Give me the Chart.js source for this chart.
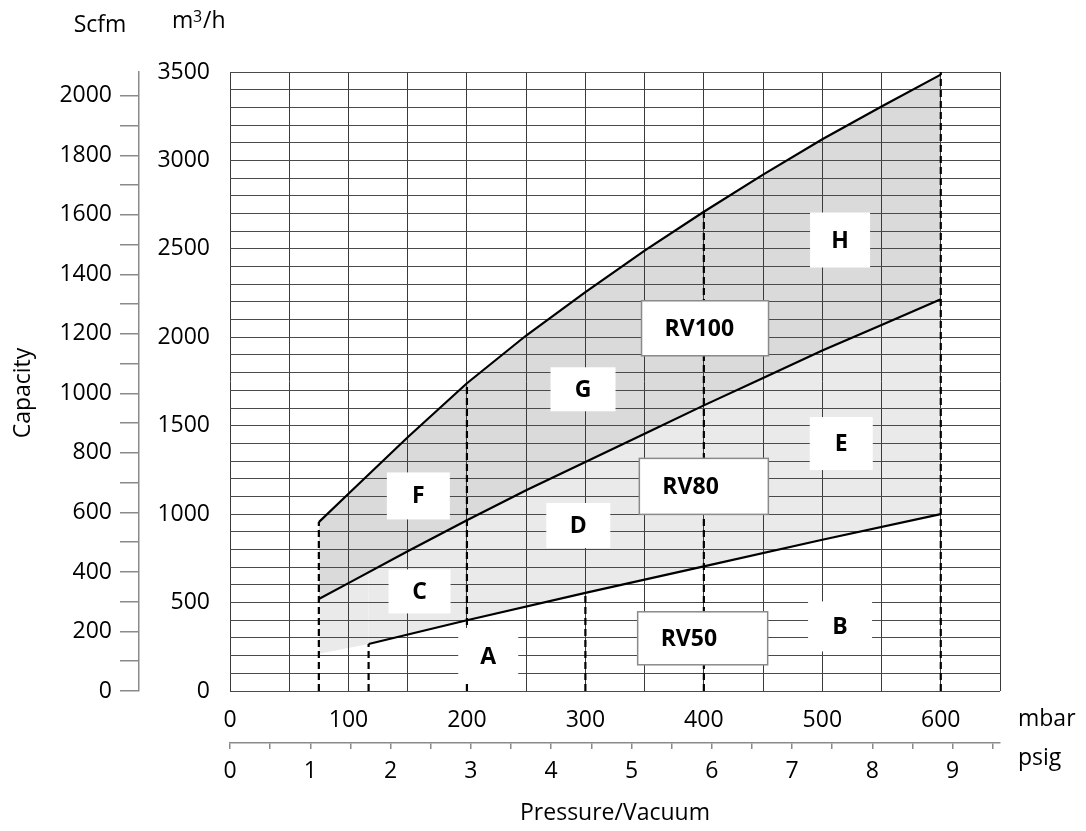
<!DOCTYPE html>
<html>
<head>
<meta charset="utf-8">
<title>RV capacity vs pressure</title>
<script src="https://cdn.jsdelivr.net/npm/chart.js@4.4.1/dist/chart.umd.min.js"></script>
<style>
  body { margin: 0; background: #fff; }
  #wrap { width: 1086px; height: 831px; position: relative; }
</style>
</head>
<body>
<div id="wrap"><canvas id="chart"></canvas></div>
<script>
// --- datos (mbar / m3/h) ---
const pressureMbar = [75, 100, 150, 200, 250, 300, 350, 400, 450, 500, 550, 600];
const rv100Max = [955, 1115, 1435, 1740, 2010, 2255, 2490, 2710, 2920, 3120, 3305, 3485];
const rv80Max = [520, 610, 790, 965, 1135, 1295, 1455, 1615, 1770, 1925, 2070, 2215];
const rv50Pressure = [75, 117, 200, 300, 400, 500, 600];
const rv50Max = [210, 266, 400, 555, 705, 855, 1000];

// límites verticales (líneas discontinuas)
const limitPressure = [75, 117, 200, 300, 400, 600];
const limitCapacity = [955, 266, 1740, 555, 2710, 3500];

// etiquetas de zonas
const regionNames = ['H', 'G', 'F', 'E', 'D', 'C', 'A', 'B', 'RV100', 'RV80', 'RV50'];
const regionMbar = [515, 298, 159, 516, 294, 160, 218, 515, 401, 400, 399];
const regionFlow = [2550, 1706, 1103, 1399, 936, 563, 198, 365, 2051, 1157, 298];

// etiquetas de los ejes
const mbarLabels = [0, 100, 200, 300, 400, 500, 600];
const psigLabels = [0, 1, 2, 3, 4, 5, 6, 7, 8, 9];
const flowLabels = [0, 500, 1000, 1500, 2000, 2500, 3000, 3500];
const scfmLabels = [0, 200, 400, 600, 800, 1000, 1200, 1400, 1600, 1800, 2000];

const FONT = '"Open Sans", "DejaVu Sans", sans-serif';
const pts = (xs, ys) => xs.map((v, i) => ({ x: v, y: ys[i] }));

// tamaño de las cajas blancas (px)
const boxSize = {
  H: [60, 55], G: [65, 44], F: [63, 47], E: [63, 53], D: [64, 45], C: [62, 44],
  A: [60, 56], B: [64, 50], RV100: [127, 55], RV80: [129, 56], RV50: [130, 53]
};

const datasets = [
  {
    label: 'RV100',
    data: pts(pressureMbar, rv100Max),
    borderColor: '#000', borderWidth: 2.2, pointRadius: 0,
    fill: { target: 1 }, backgroundColor: '#dadada'
  },
  {
    label: 'RV80',
    data: pts(pressureMbar, rv80Max),
    borderColor: '#000', borderWidth: 2.2, pointRadius: 0,
    fill: { target: 2 }, backgroundColor: '#eaeaea'
  },
  {
    label: 'RV50',
    data: pts(rv50Pressure, rv50Max),
    borderColor: '#000', borderWidth: 2.2, pointRadius: 0, fill: false,
    segment: { borderColor: c => c.p0DataIndex === 0 ? 'rgba(0,0,0,0)' : '#000' }
  }
];
limitPressure.forEach((p, i) => {
  datasets.push({
    label: 'limite ' + p,
    data: [{ x: p, y: 0 }, { x: p, y: limitCapacity[i] }],
    borderColor: '#000', borderWidth: 2.2, borderDash: [7, 4],
    pointRadius: 0, fill: false
  });
});

const overlay = {
  id: 'overlay',
  afterDatasetsDraw(chart) {
    const { ctx, scales: { x, y } } = chart;
    ctx.save();
    regionNames.forEach((name, i) => {
      const [w, h] = boxSize[name];
      const cx = x.getPixelForValue(regionMbar[i]);
      const cy = y.getPixelForValue(regionFlow[i]);
      const framed = name.startsWith('RV');
      ctx.fillStyle = '#fff';
      ctx.fillRect(cx - w / 2, cy - h / 2, w, h);
      if (framed) {
        ctx.strokeStyle = '#8a8a8a';
        ctx.lineWidth = 1.5;
        ctx.strokeRect(cx - w / 2, cy - h / 2, w, h);
      }
      ctx.fillStyle = '#000';
      ctx.font = 'bold 23px ' + FONT;
      ctx.textBaseline = 'middle';
      ctx.textAlign = framed ? 'left' : 'center';
      ctx.fillText(name, framed ? cx - w / 2 + 23 : cx, cy + 1);
    });
    ctx.restore();
  },
  afterDraw(chart) {
    const { ctx, chartArea } = chart;
    ctx.save();
    ctx.fillStyle = '#000';
    ctx.textBaseline = 'alphabetic';
    ctx.font = '23px ' + FONT;
    // cabeceras de los ejes verticales
    ctx.textAlign = 'center';
    ctx.fillText('Scfm', 100, 32);
    ctx.textAlign = 'left';
    ctx.fillText('m', 172, 28);
    ctx.font = '16px ' + FONT;
    ctx.fillText('3', 193, 22);
    ctx.font = '23px ' + FONT;
    ctx.fillText('/h', 203, 28);
    // unidades del eje horizontal
    ctx.fillText('mbar', chartArea.right + 18, 726);
    ctx.fillText('psig', chartArea.right + 18, 765);
    // título
    ctx.textAlign = 'center';
    ctx.fillText('Pressure/Vacuum', (chartArea.left + chartArea.right) / 2, 820);
    ctx.translate(30, 393);
    ctx.rotate(-Math.PI / 2);
    ctx.fillText('Capacity', 0, 0);
    ctx.restore();
  }
};

const tickFont = { family: FONT, size: 23 };

new Chart(document.getElementById('chart'), {
  type: 'line',
  data: { datasets },
  plugins: [overlay],
  options: {
    responsive: true,
    maintainAspectRatio: false,
    animation: false,
    layout: { padding: { left: 0, right: 86, top: 72, bottom: 0 } },
    plugins: {
      legend: { display: false },
      tooltip: { enabled: false },
      filler: { drawTime: 'beforeDraw' }
    },
    scales: {
      x: {
        type: 'linear', position: 'bottom', weight: 0,
        min: 0, max: 650,
        ticks: {
          stepSize: 50, autoSkip: false, maxRotation: 0, padding: 16,
          color: '#000', font: tickFont,
          callback: v => mbarLabels.includes(v) ? v : ''
        },
        grid: { color: '#3a3a3a', lineWidth: 1, drawTicks: false },
        border: { display: false },
        afterFit: s => { s.height = 52; }
      },
      x2: {
        type: 'linear', position: 'bottom', weight: 1,
        min: 0, max: 9.59,
        ticks: {
          stepSize: 0.5, autoSkip: false, maxRotation: 0, padding: 9,
          includeBounds: false, color: '#000', font: tickFont,
          callback: v => psigLabels.includes(v) ? v : ''
        },
        grid: { drawOnChartArea: false, tickLength: 6, color: '#8a8a8a', lineWidth: 1.5 },
        border: { display: true, color: '#8a8a8a', width: 1.5 },
        afterFit: s => { s.height = 88; }
      },
      y: {
        type: 'linear', position: 'left', weight: 0,
        min: 0, max: 3500,
        ticks: {
          stepSize: 100, autoSkip: false, padding: 20,
          color: '#000', font: tickFont,
          callback: v => flowLabels.includes(v) ? v : ''
        },
        grid: { color: '#4a4a4a', lineWidth: 1, drawTicks: false },
        border: { display: false },
        afterFit: s => { s.width = 91; }
      },
      y2: {
        type: 'linear', position: 'left', weight: 1,
        min: 0, max: 2080,
        ticks: {
          stepSize: 100, autoSkip: false, padding: 8, includeBounds: false,
          color: '#000', font: tickFont,
          callback: v => scfmLabels.includes(v) ? v : ''
        },
        grid: { drawOnChartArea: false, tickLength: 19, color: '#8a8a8a', lineWidth: 1.5 },
        border: { display: true, color: '#8a8a8a', width: 1.5 },
        afterFit: s => { s.width = 139; }
      }
    }
  }
});
</script>
</body>
</html>
